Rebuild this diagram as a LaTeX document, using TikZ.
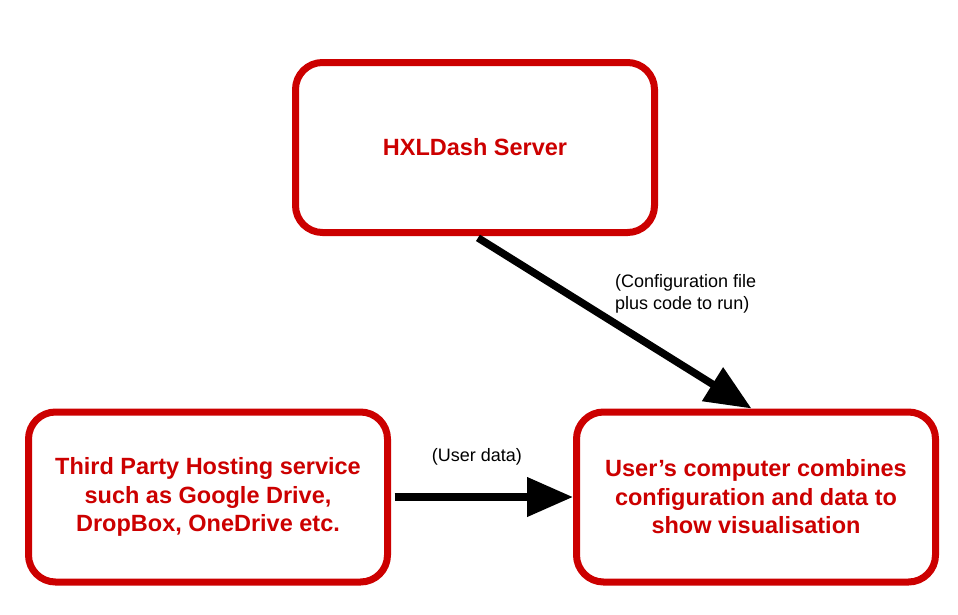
\documentclass[tikz,border=0pt]{standalone}
\usepackage{fontspec}
\setmainfont{Liberation Sans}
\usetikzlibrary{shapes, positioning, calc, arrows.meta}

\definecolor{boxred}{RGB}{204,0,0}

\begin{document}
\begin{tikzpicture}[x=1pt, y=-1pt]
  \newcommand\boxgap{182pt}
  \newcommand\tipshift{4.5pt}

  \tikzset{hxlbox/.style={draw=boxred, line width=7pt, rounded corners=27pt, minimum width=359pt, minimum height=170pt, align=center, text=boxred, font=\bfseries\fontsize{23.5}{28.5}\selectfont}}
  \tikzset{flowlbl/.style={font=\fontsize{18}{21.7}\selectfont, inner sep=0pt}}
  \tikzset{flow/.style={line width=7.5pt, -{Triangle[length=46pt, width=38pt]}}}

  \useasboundingbox (0, 0) rectangle (958, 614);

  % boxes
  \node[hxlbox] at (475, 147.5) (server) {HXLDash Server};
  \node[hxlbox] at (208, 497) (host) {Third Party Hosting service\\such as Google Drive,\\DropBox, OneDrive etc.};
  \node[hxlbox, right=\boxgap of host] (user) {User’s computer combines\\configuration and data to\\show visualisation};

  % flows
  \draw[flow, shorten <=3.5pt] (server.south) -- ([xshift=-\tipshift]user.north);
  \draw[flow, shorten <=3.5pt] (host.east) -- (user.west);

  \node[flowlbl, anchor=west, align=left] at (615, 294) (configlbl) {(Configuration file\\plus code to run)};
  \node[flowlbl] at (477, 457) (datalbl) {(User data)};
\end{tikzpicture}
\end{document}
